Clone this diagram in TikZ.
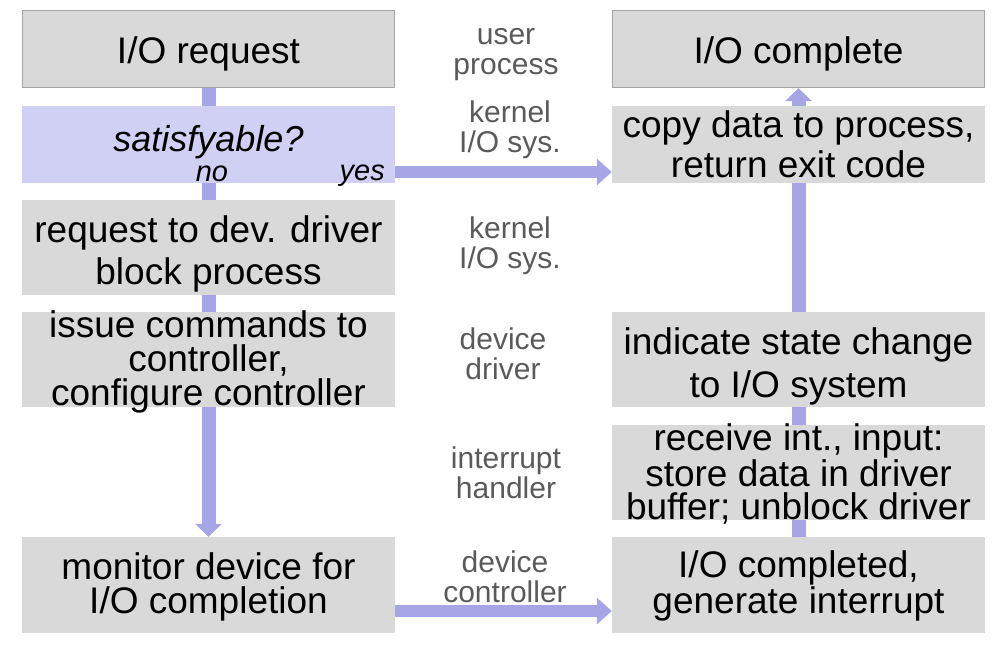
\documentclass[tikz,border=0pt]{standalone}
\usepackage{fontspec}
\setmainfont{Liberation Sans}
\usetikzlibrary{arrows.meta}
\definecolor{boxgray}{RGB}{217,217,217}
\definecolor{lav}{RGB}{208,208,244}
\definecolor{flowc}{RGB}{166,166,230}
\definecolor{lblgray}{RGB}{90,90,90}
\definecolor{edgegray}{RGB}{165,165,165}
\begin{document}
\begin{tikzpicture}[x=1pt,y=-1pt,
  box/.style={fill=boxgray, minimum width=373pt, inner sep=0pt, align=center, text=black},
  framed/.style={draw=edgegray, line width=1.2pt},
  fsA/.style={font=\fontsize{37}{42}\selectfont},
  fsB/.style={font=\fontsize{37}{34}\selectfont},
  down/.style={text height=#1},
  flat/.style={text height=#1, text depth=0pt},
  lbl/.style={font=\fontsize{30}{30}\selectfont, text=lblgray, align=center, inner sep=0pt},
  flow/.style={draw=flowc, line width=14pt},
  hflow/.style={draw=flowc, line width=12pt},
  tip/.style={-{Triangle[width=26pt,length=13pt]}}
]
\useasboundingbox (0,0) rectangle (1007,646);

% left column
\node[box, framed, fsA, down=37pt, minimum width=372pt, minimum height=77pt] (req) at (208.5,49) {I/O request};
\node[box, fill=lav, minimum height=77pt] (sat) at (208.5,144.5) {};
\node[box, fsA, down=81pt, minimum height=95pt] (drv) at (208.5,247.5) {request to dev. driver\\block process};
\node[box, fsB, flat=91pt, minimum height=95pt] (cmd) at (208.5,359.5) {issue commands to\\controller,\\configure controller};
\node[box, fsB, down=65pt, minimum height=96pt] (mon) at (208.5,585) {monitor device for\\I/O completion};

% right column
\node[box, framed, fsA, down=37pt, minimum width=372pt, minimum height=77pt] (cmpl) at (798.5,49) {I/O complete};
\node[box, font=\fontsize{37}{40}\selectfont, flat=65pt, minimum height=77pt] (copy) at (798.5,144.5) {copy data to process,\\return exit code};
\node[box, font=\fontsize{37}{43}\selectfont, down=84pt, minimum height=95pt] (ind) at (798.5,359.5) {indicate state change\\to I/O system};
\node[box, font=\fontsize{37}{33}\selectfont, flat=93.5pt, minimum height=95pt] (recv) at (798.5,472.5) {receive int., input:\\store data in driver\\buffer; unblock driver};
\node[box, fsB, down=64pt, minimum height=96pt] (done) at (798.5,585) {I/O completed,\\generate interrupt};

% text of the decision box
\node[inner sep=0pt, font=\fontsize{36}{36}\selectfont\itshape] (satq) at (208.5,142) {satisfyable?};
\node[inner sep=0pt, font=\fontsize{29}{29}\selectfont\itshape] (no) at (212,174) {no};
\node[inner sep=0pt, anchor=east, font=\fontsize{29}{29}\selectfont\itshape] (yes) at (385,176) {yes};

% layer labels
\node[lbl] (l1) at (506,55) {user\\process};
\node[lbl] (l2) at (510,130) {kernel\\I/O sys.};
\node[lbl] (l3) at (510,246) {kernel\\I/O sys.};
\node[lbl] (l4) at (503,354) {device\\driver};
\node[lbl] (l5) at (506,473) {interrupt\\handler};
\node[lbl] (l6) at (505,577) {device\\controller};

% connectors left
\draw[flow] (req.south) -- (sat.north);
\draw[flow] (sat.south) -- (drv.north);
\draw[flow] (drv.south) -- (cmd.north);
\draw[flow, tip] (cmd.south) -- (mon.north);

% connectors right
\draw[flow] (done.north) -- (recv.south);
\draw[flow] (recv.north) -- (ind.south);
\draw[flow] (ind.north) -- (copy.south);
\draw[flow, tip] (copy.north) -- (cmpl.south);

% horizontal connectors
\draw[hflow, -{Triangle[width=26pt,length=15pt]}] ([yshift=-27.5pt]sat.east) -- ([yshift=-27.5pt]copy.west);
\draw[hflow, -{Triangle[width=26pt,length=15pt]}] ([yshift=-26pt]mon.east) -- ([yshift=-26pt]done.west);
\end{tikzpicture}
\end{document}
